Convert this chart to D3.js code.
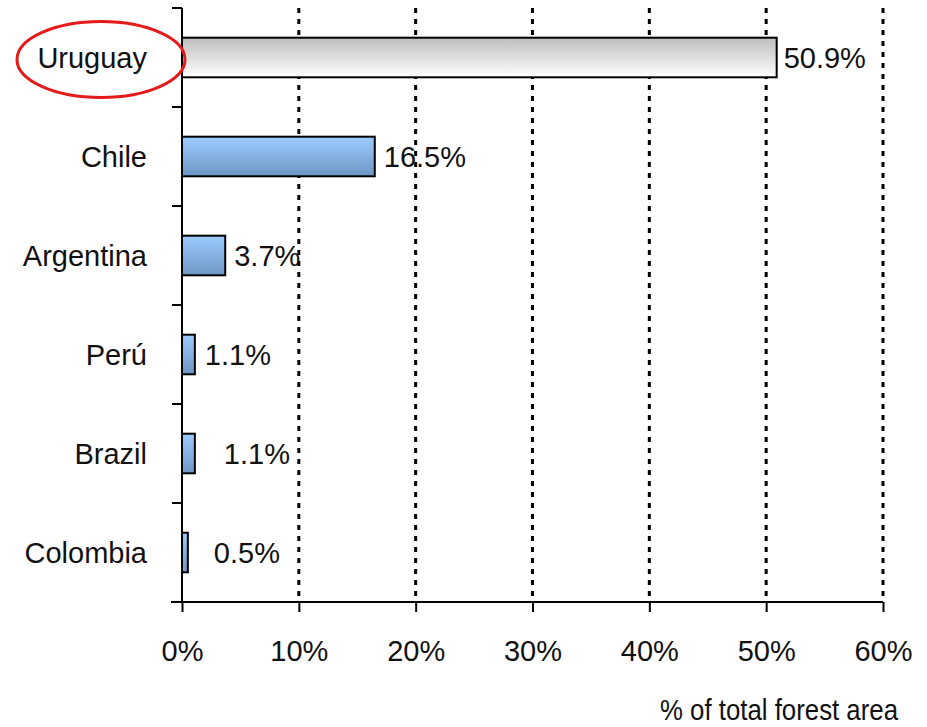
<!DOCTYPE html>
<html>
<head>
<meta charset="utf-8">
<script src="https://cdn.jsdelivr.net/npm/d3@7"></script>
<style>
  body { margin: 0; background: #fff; }
  svg text { font-family: "Liberation Sans Narrow", "Arial Narrow", "Liberation Sans", sans-serif; fill: #111; }
</style>
</head>
<body>
<div id="chart"></div>
<script>
// data
var countries = ["Uruguay", "Chile", "Argentina", "Perú", "Brazil", "Colombia"];
var shares = [50.9, 16.5, 3.7, 1.1, 1.1, 0.5];
var valueLabels = ["50.9%", "16.5%", "3.7%", "1.1%", "1.1%", "0.5%"];
var xTicks = [0, 10, 20, 30, 40, 50, 60];
var highlighted = "Uruguay";

// layout (label gaps after each bar end, as in the original)
var labelGap = [7, 9, 9, 10, 29, 26];

var W = 927, H = 727;
var margin = {top: 8, right: 44, bottom: 125, left: 182};
var width = W - margin.left - margin.right;
var height = H - margin.top - margin.bottom;

var svg = d3.select("#chart").append("svg")
    .attr("width", W)
    .attr("height", H);

var defs = svg.append("defs");
var gGray = defs.append("linearGradient").attr("id", "gray").attr("x1", 0).attr("y1", 0).attr("x2", 0).attr("y2", 1);
gGray.append("stop").attr("offset", "0%").attr("stop-color", "#bdbdbd");
gGray.append("stop").attr("offset", "100%").attr("stop-color", "#ffffff");
var gBlue = defs.append("linearGradient").attr("id", "blue").attr("x1", 0).attr("y1", 0).attr("x2", 0).attr("y2", 1);
gBlue.append("stop").attr("offset", "0%").attr("stop-color", "#9cccff");
gBlue.append("stop").attr("offset", "100%").attr("stop-color", "#6d97c4");

var g = svg.append("g").attr("transform", "translate(" + margin.left + "," + margin.top + ")");

var x = d3.scaleLinear().domain([0, 60]).range([0, width]);
var y = d3.scaleBand().domain(countries).range([0, height]).paddingInner(0.6).paddingOuter(0.3);

// dotted gridlines
g.append("g")
    .selectAll("line")
    .data(xTicks.slice(1))
    .enter().append("line")
    .attr("x1", function(d){ return x(d); })
    .attr("x2", function(d){ return x(d); })
    .attr("y1", 0)
    .attr("y2", height)
    .attr("stroke", "#000")
    .attr("stroke-width", 3)
    .attr("stroke-dasharray", "5,6");

// bars
var data = countries.map(function(c, i){ return {name: c, v: shares[i], label: valueLabels[i], gap: labelGap[i]}; });

g.selectAll("rect.bar")
    .data(data)
    .enter().append("rect")
    .attr("class", "bar")
    .attr("x", x(0))
    .attr("y", function(d){ return y(d.name); })
    .attr("width", function(d){ return x(d.v) - x(0); })
    .attr("height", y.bandwidth())
    .attr("fill", function(d){ return d.name === highlighted ? "url(#gray)" : "url(#blue)"; })
    .attr("stroke", "#000")
    .attr("stroke-width", 2);

g.selectAll("text.val")
    .data(data)
    .enter().append("text")
    .attr("class", "val")
    .attr("x", function(d){ return x(d.v) + d.gap; })
    .attr("y", function(d){ return y(d.name) + y.bandwidth() / 2; })
    .attr("dy", "0.36em")
    .attr("font-size", 29)
    .text(function(d){ return d.label; });

// x axis
var xAxis = g.append("g")
    .attr("transform", "translate(0," + height + ")")
    .call(d3.axisBottom(x).tickValues(xTicks).tickSize(10).tickPadding(28)
        .tickFormat(function(d){ return d + "%"; }));
xAxis.select(".domain").remove();
xAxis.append("line").attr("x1", -11).attr("x2", width).attr("stroke", "#000").attr("stroke-width", 2);
xAxis.selectAll(".tick line").attr("stroke-width", 2);
xAxis.selectAll(".tick text").attr("font-size", 29).attr("font-family", null).attr("fill", "#111");

// y axis with ticks on band boundaries
var yAxis = g.append("g");
yAxis.append("line").attr("x1", 0).attr("x2", 0).attr("y1", 0).attr("y2", height).attr("stroke", "#000").attr("stroke-width", 2);
var step = height / countries.length;
yAxis.selectAll("line.tk")
    .data(d3.range(countries.length + 1))
    .enter().append("line")
    .attr("class", "tk")
    .attr("x1", -10).attr("x2", 0)
    .attr("y1", function(i){ return i * step; })
    .attr("y2", function(i){ return i * step; })
    .attr("stroke", "#000").attr("stroke-width", 2);

yAxis.selectAll("text")
    .data(countries)
    .enter().append("text")
    .attr("x", -35)
    .attr("y", function(d){ return y(d) + y.bandwidth() / 2; })
    .attr("dy", "0.36em")
    .attr("text-anchor", "end")
    .attr("font-size", 29)
    .text(function(d){ return d; });

// red ellipse round the highlighted country
svg.append("ellipse")
    .attr("cx", 101)
    .attr("cy", margin.top + y(highlighted) + y.bandwidth() / 2 + 2)
    .attr("rx", 84)
    .attr("ry", 38)
    .attr("fill", "none")
    .attr("stroke", "#e41b1b")
    .attr("stroke-width", 3);

// axis title (squeezed a little to the narrow width of the original)
svg.append("text")
    .attr("x", 660)
    .attr("y", 720)
    .attr("textLength", 238)
    .attr("lengthAdjust", "spacingAndGlyphs")
    .attr("font-size", 29)
    .text("% of total forest area");
</script>
</body>
</html>
